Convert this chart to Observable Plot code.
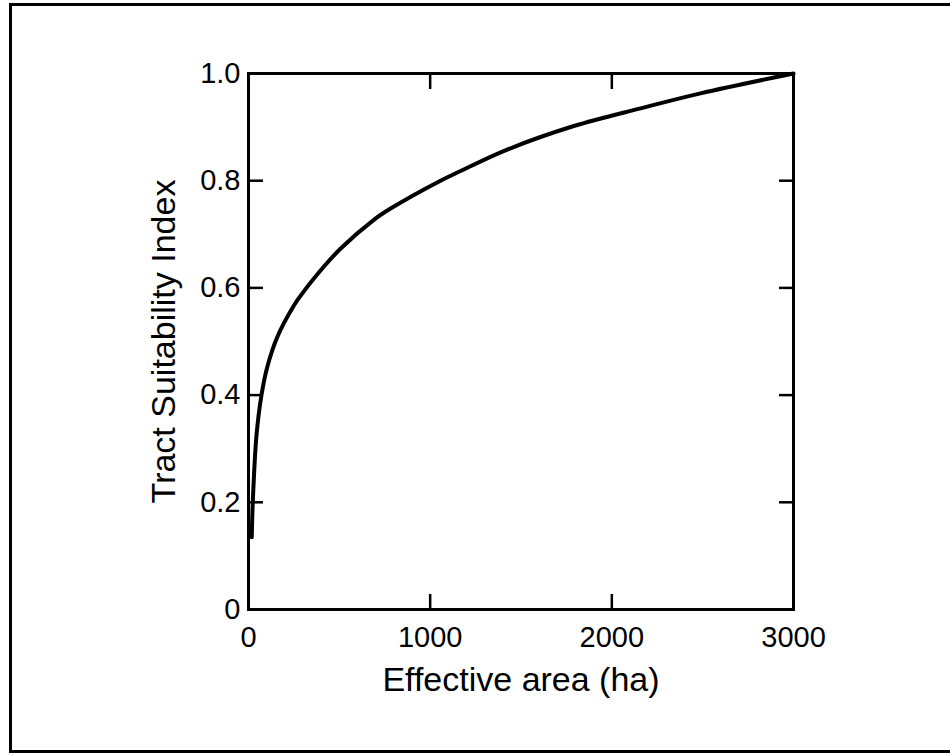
<!DOCTYPE html>
<html>
<head>
<meta charset="utf-8">
<script src="https://cdn.jsdelivr.net/npm/d3@7"></script>
<script src="https://cdn.jsdelivr.net/npm/@observablehq/plot@0.6"></script>
<style>
  html, body { margin: 0; padding: 0; background: #fff; }
  #wrap { position: relative; width: 950px; height: 756px; overflow: hidden; }
  #border { position: absolute; left: 9px; top: 3px; width: 960px; height: 750px;
            border-left: 3px solid #000; border-top: 3px solid #000; border-bottom: 3px solid #000; box-sizing: border-box; pointer-events: none; }
</style>
</head>
<body>
<div id="wrap"><div id="border"></div></div>
<script>
// Data
const effectiveArea = [18, 24, 44, 70, 103, 158, 250, 286, 378, 506, 690, 782, 1057, 1167, 1424, 1791, 2158, 2488, 3000];
const suitability   = [0.135, 0.204, 0.325, 0.397, 0.452, 0.508, 0.567, 0.585, 0.625, 0.673, 0.727, 0.748, 0.800, 0.818, 0.858, 0.902, 0.935, 0.963, 1.0];

const xTicks = [0, 1000, 2000, 3000];
const xTickLabels = ["0", "1000", "2000", "3000"];
const yTicks = [0, 0.2, 0.4, 0.6, 0.8, 1.0];
const yTickLabels = ["0", "0.2", "0.4", "0.6", "0.8", "1.0"];
const xTitle = "Effective area (ha)";
const yTitle = "Tract Suitability Index";

const data = effectiveArea.map((x, i) => ({x, y: suitability[i]}));

const chart = Plot.plot({
  width: 950,
  height: 756,
  marginLeft: 248,
  marginRight: 157,
  marginTop: 73,
  marginBottom: 147,
  x: {domain: [0, 3000]},
  y: {domain: [0, 1]},
  style: {fontFamily: "'Liberation Sans', Arial, Helvetica, sans-serif", fontSize: "29px", color: "#000", background: "transparent", overflow: "visible"},
  marks: [
    Plot.axisX(xTicks, {anchor: "bottom", tickSize: -15, tickPadding: 32, strokeWidth: 2.5, fontSize: 29,
      tickFormat: (d, i) => xTickLabels[i], label: null}),
    Plot.axisX(xTicks, {anchor: "top", tickSize: -15, strokeWidth: 2.5, tickFormat: () => "", label: null}),
    Plot.axisY(yTicks, {anchor: "left", tickSize: -15, tickPadding: 23, strokeWidth: 2.5, fontSize: 29,
      tickFormat: (d, i) => yTickLabels[i], label: null}),
    Plot.axisY(yTicks, {anchor: "right", tickSize: -15, strokeWidth: 2.5, tickFormat: () => "", label: null}),
    Plot.frame({stroke: "#000", strokeWidth: 3}),
    Plot.line(data, {x: "x", y: "y", stroke: "#000", strokeWidth: 4, curve: "catmull-rom"}),
    Plot.text([xTitle], {frameAnchor: "bottom", dy: 71, text: d => d, textAnchor: "middle", lineAnchor: "middle", fontSize: 34}),
    Plot.text([yTitle], {frameAnchor: "left", dx: -84, text: d => d, textAnchor: "middle", lineAnchor: "middle", rotate: -90, fontSize: 34})
  ]
});
chart.style.position = "absolute";
chart.style.left = "0px";
chart.style.top = "0px";
document.getElementById("wrap").appendChild(chart);
</script>
</body>
</html>
